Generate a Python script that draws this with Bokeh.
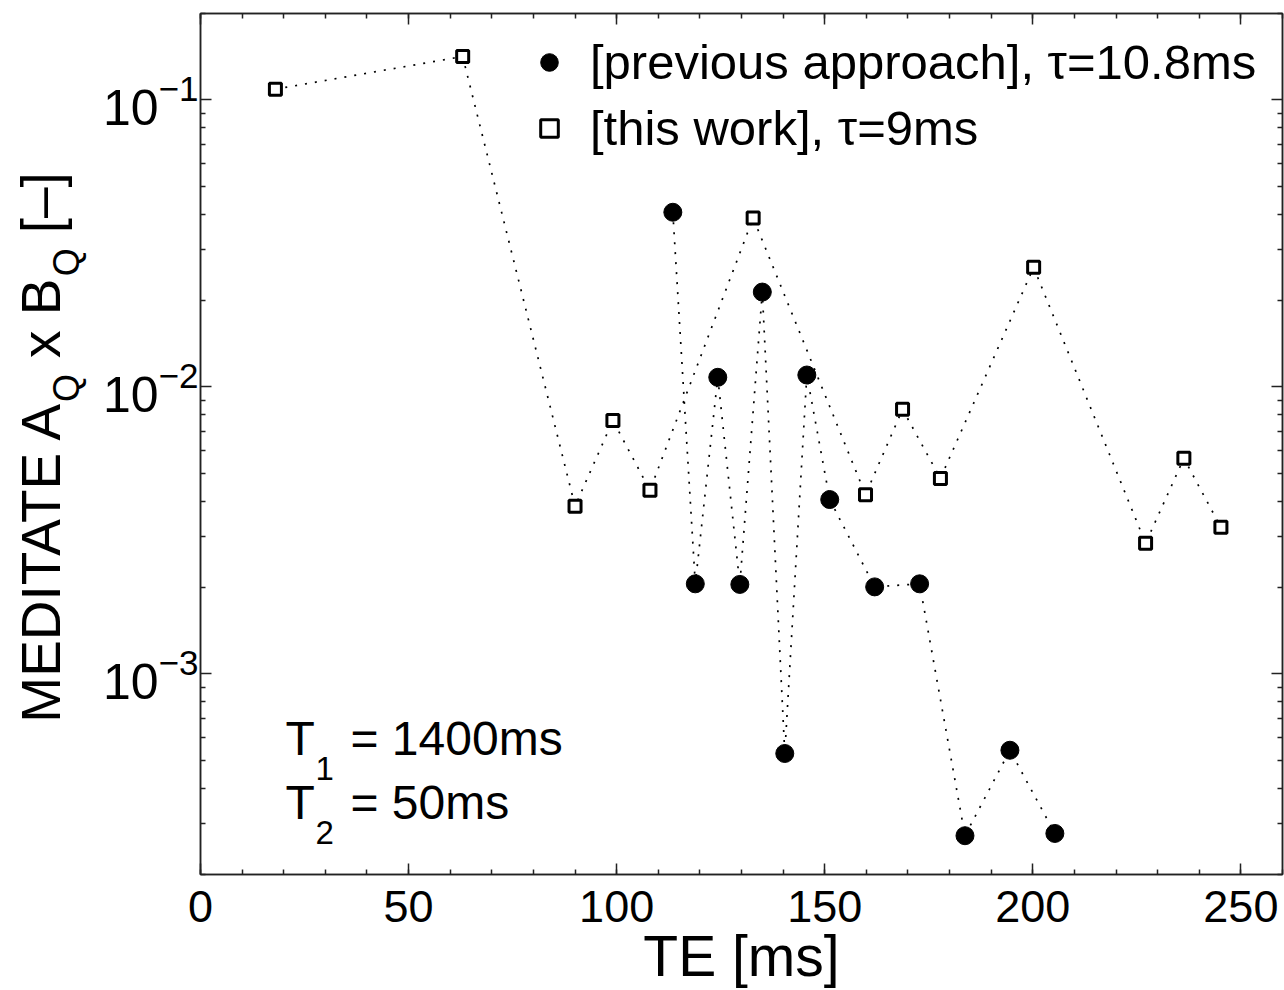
import math
from bokeh.plotting import figure
from bokeh.layouts import row
from bokeh.core.properties import value
from bokeh.models import (Range1d, SingleIntervalTicker, FixedTicker, LinearAxis, LogAxis,
                          Label, Legend, LegendItem, ColumnDataSource)
from bokeh.embed import file_html
from bokeh.resources import INLINE

# ---- data ----
te_prev = [113.5, 118.9, 124.3, 129.6, 135.0, 140.4, 145.7, 151.2, 162.0, 172.8, 183.7, 194.5, 205.3]
val_prev = [0.0406, 0.00206, 0.0108, 0.00205, 0.0214, 0.000528, 0.0110, 0.00405,
            0.00201, 0.00206, 0.000273, 0.000542, 0.000278]
te_this = [18.0, 63.0, 90.0, 99.1, 108.0, 132.8, 159.8, 168.7, 177.8, 200.2, 227.1, 236.3, 245.2]
val_this = [0.109, 0.1416, 0.00384, 0.00764, 0.00436, 0.0388, 0.00421, 0.00836,
            0.0048, 0.0261, 0.00285, 0.00564, 0.00324]
label_prev = "[previous approach], τ=10.8ms"
label_this = "[this work], τ=9ms"
x_major = 50
y_major = [1e-3, 1e-2, 1e-1]
y_minor = [m * 10.0 ** e for e in (-4, -3, -2, -1) for m in range(2, 10)]

FONT = "Liberation Sans"
AX = "#222222"
H = 990
LW = 95           # width of the strip holding the rotated y-axis title
TOP, BOT = 13, 115  # borders above / below the plot frame

p = figure(width=1284 - LW, height=H, x_range=Range1d(0, 260), y_range=Range1d(2e-4, 0.2),
           y_axis_type="log", output_backend="svg", toolbar_location=None,
           min_border_left=200 - LW, min_border_right=2, min_border_top=TOP,
           min_border_bottom=BOT)
p.grid.visible = False
p.outline_line_color = AX
p.outline_line_width = 1.5
p.background_fill_color = "white"
p.border_fill_color = "white"

xt = SingleIntervalTicker(interval=x_major, num_minor_ticks=5)
yt = FixedTicker(ticks=y_major, minor_ticks=y_minor)
p.xaxis.ticker = xt
p.yaxis.ticker = yt


def style(ax, size=None):
    ax.major_tick_in = 11
    ax.major_tick_out = 0
    ax.minor_tick_in = 5
    ax.minor_tick_out = 0
    ax.axis_line_color = AX
    ax.axis_line_width = 1.5
    ax.major_tick_line_color = AX
    ax.major_tick_line_width = 1.5
    ax.minor_tick_line_color = AX
    ax.minor_tick_line_width = 1.5
    ax.major_label_text_font = FONT
    ax.major_label_text_color = "black"
    if size:
        ax.major_label_text_font_size = size
    else:
        ax.major_label_text_font_size = "1px"
        ax.major_label_text_color = None
        ax.major_label_standoff = 0


style(p.xaxis[0], "45px")
style(p.yaxis[0], "50px")
p.xaxis.major_label_standoff = 16
p.yaxis.major_label_standoff = 2
p.xaxis.axis_label = "TE [ms]"
p.xaxis.axis_label_text_font = FONT
p.xaxis.axis_label_text_font_size = "57px"
p.xaxis.axis_label_text_font_style = "normal"
p.xaxis.axis_label_text_color = "black"
p.xaxis.axis_label_standoff = -1

top = LinearAxis(ticker=xt)
style(top)
p.add_layout(top, "above")
right = LogAxis(ticker=yt)
style(right)
p.add_layout(right, "right")

src_prev = ColumnDataSource(dict(x=te_prev, y=val_prev))
src_this = ColumnDataSource(dict(x=te_this, y=val_this))

p.line("x", "y", source=src_prev, line_color="black", line_width=1.7, line_dash="2 8")
p.line("x", "y", source=src_this, line_color="black", line_width=1.7, line_dash="2 8")
rc = p.scatter("x", "y", source=src_prev, marker="circle", size=18,
               fill_color="black", line_color="black", line_width=1)
rs = p.scatter("x", "y", source=src_this, marker="square", size=12,
               fill_color="white", line_color="black", line_width=3)

# legend placed by its lower-left corner, in pixels from the frame's bottom-left
legend = Legend(items=[LegendItem(label=label_prev, renderers=[rc]),
                       LegendItem(label=label_this, renderers=[rs])],
                location=(327, 718), margin=0, padding=20, spacing=10,
                glyph_width=44, glyph_height=44, label_standoff=19,
                label_text_font=FONT, label_text_font_size="49px", label_text_color="black",
                border_line_color=None, background_fill_alpha=0)
p.add_layout(legend)


def lab(text, x, y, size):
    p.add_layout(Label(x=x, y=y, x_units="screen", y_units="screen", text=text,
                       text_font=FONT, text_font_size=size, text_color="black",
                       text_baseline="alphabetic"))


# T1 / T2 annotation
lab("T", 85, 136, "48px")
lab("1", 115, 106, "33px")
lab("= 1400ms", 150, 136, "48px")
lab("T", 85, 72, "48px")
lab("2", 115, 42, "33px")
lab("= 50ms", 150, 72, "48px")

# ---- rotated y-axis title with subscripts, in its own strip ----
# the strip's frame lines up with the main frame; its y range maps page rows directly
yl = figure(width=LW, height=H, x_range=Range1d(0, LW), y_range=Range1d(H - BOT, TOP),
            output_backend="svg", toolbar_location=None, min_border=0,
            x_axis_location=None, y_axis_location=None, outline_line_color=None)
yl.grid.visible = False
yl.background_fill_color = "white"
yl.border_fill_color = "white"
A = math.pi / 2
yl.text(x=[40, 40, 40], y=[723, 358, 233], text=["MEDITATE A", "x B", "[–]"],
        angle=A, text_font=value(FONT), text_font_size="55px", text_color="black",
        text_baseline="alphabetic", text_align="left")
yl.text(x=[66, 66], y=[402, 276], text=["Q", "Q"],
        angle=A, text_font=value(FONT), text_font_size="36px", text_color="black",
        text_baseline="alphabetic", text_align="left")

layout = row(yl, p, spacing=0)
open("out.html", "w").write(file_html(layout, INLINE))
